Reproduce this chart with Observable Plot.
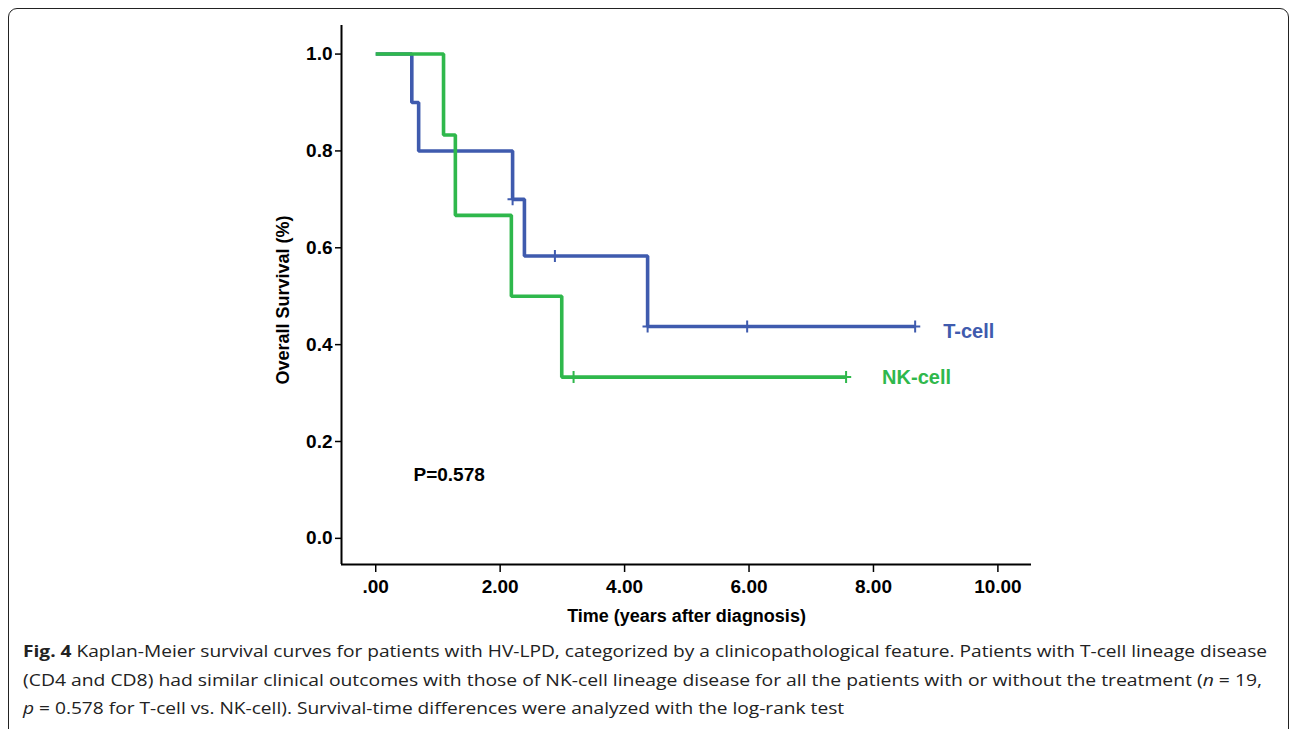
<!DOCTYPE html>
<html>
<head>
<meta charset="utf-8">
<script src="https://cdn.jsdelivr.net/npm/d3@7"></script>
<script src="https://cdn.jsdelivr.net/npm/@observablehq/plot@0.6"></script>
<style>
  html, body { margin: 0; padding: 0; background: #fff; }
  body { width: 1295px; height: 729px; position: relative; overflow: hidden; }
  #frame { position: absolute; left: 8px; top: 8px; width: 1281px; height: 730px; border: 1.5px solid #222; border-radius: 9px; box-sizing: border-box; }
  #chart { position: absolute; left: 0; top: 0; }
  #chart svg text { font-weight: bold; }
  #caption { position: absolute; left: 23px; top: 637px; font-family: "Open Sans", sans-serif; font-size: 16.5px; line-height: 28.5px; color: #222; }
  #caption .ln { white-space: nowrap; transform-origin: 0 50%; width: max-content; }
</style>
</head>
<body>
<div id="frame"></div>
<div id="chart"></div>
<div id="caption">
  <div class="ln"><b>Fig. 4</b> Kaplan-Meier survival curves for patients with HV-LPD, categorized by a clinicopathological feature. Patients with T-cell lineage disease</div>
  <div class="ln">(CD4 and CD8) had similar clinical outcomes with those of NK-cell lineage disease for all the patients with or without the treatment (<i>n</i> = 19,</div>
  <div class="ln"><i>p</i> = 0.578 for T-cell vs. NK-cell). Survival-time differences were analyzed with the log-rank test</div>
</div>
<script>
// ---- data ----
const tcellTime     = [0, 0.58, 0.69, 2.20, 2.39, 4.37, 8.67];
const tcellSurvival = [1.0, 0.9, 0.8, 0.7, 0.583, 0.4375, 0.4375];
const tcellCensored = [2.20, 2.88, 4.37, 5.97, 8.67];

const nkTime     = [0, 1.09, 1.28, 2.18, 2.99, 7.56];
const nkSurvival = [1.0, 0.833, 0.667, 0.5, 0.333, 0.333];
const nkCensored = [3.18, 7.56];

const xTicks = [0, 2, 4, 6, 8, 10];
const yTicks = [0, 0.2, 0.4, 0.6, 0.8, 1.0];
const seriesNames = ["T-cell", "NK-cell"];
const pLabel = "P=0.578";
const xTitle = "Time (years after diagnosis)";
const yTitle = "Overall Survival (%)";

// ---- build tables ----
const blue = "#3f5bae";
const green = "#2fb84c";
const tcell = tcellTime.map((t, i) => ({time: t, surv: tcellSurvival[i]}));
const nk = nkTime.map((t, i) => ({time: t, surv: nkSurvival[i]}));
function survAt(table, t) {
  let s = table[0].surv;
  for (const d of table) if (d.time <= t) s = d.surv;
  return s;
}
const tcellCens = tcellCensored.map(t => ({time: t, surv: survAt(tcell, t)}));
const nkCens = nkCensored.map(t => ({time: t, surv: survAt(nk, t)}));

const censorSymbol = {
  draw(ctx, size) {
    const r = Math.sqrt(size / Math.PI);
    ctx.moveTo(0, -r); ctx.lineTo(0, r);
    ctx.moveTo(-r * 0.85, 0); ctx.lineTo(r * 0.85, 0);
  }
};

const xDomain = [-0.55, 10.54];
const yDomain = [-0.054, 1.059];
const font = "'Liberation Sans', Arial, sans-serif";

const chart = Plot.plot({
  width: 1295,
  height: 640,
  marginLeft: 341,
  marginRight: 264,
  marginTop: 25,
  marginBottom: 76,
  style: {fontFamily: font, background: "transparent", color: "#000", overflow: "visible"},
  x: {domain: xDomain},
  y: {domain: yDomain},
  marks: [
    Plot.axisY({ticks: yTicks, tickFormat: d3.format(".1f"), tickSize: 6, tickPadding: 3, fontSize: 19, strokeWidth: 1.5, label: null}),
    Plot.axisX({ticks: xTicks, tickFormat: d => d === 0 ? ".00" : d.toFixed(2), tickSize: 8, tickPadding: 7, fontSize: 19, strokeWidth: 1.5, label: null}),
    Plot.ruleX([xDomain[0]], {stroke: "#000", strokeWidth: 2}),
    Plot.ruleY([yDomain[0]], {stroke: "#000", strokeWidth: 2}),
    Plot.line(tcell, {x: "time", y: "surv", curve: "step-after", stroke: blue, strokeWidth: 3.6, strokeLinejoin: "miter", strokeLinecap: "butt"}),
    Plot.dot(tcellCens, {x: "time", y: "surv", symbol: censorSymbol, r: 6, stroke: blue, strokeWidth: 2, fill: "none"}),
    Plot.line(nk, {x: "time", y: "surv", curve: "step-after", stroke: green, strokeWidth: 3.6, strokeLinejoin: "miter", strokeLinecap: "butt"}),
    Plot.dot(nkCens, {x: "time", y: "surv", symbol: censorSymbol, r: 6, stroke: green, strokeWidth: 2, fill: "none"}),
    Plot.text([tcell[tcell.length - 1]], {x: "time", y: "surv", text: () => seriesNames[0], fill: blue, fontSize: 20, textAnchor: "start", dx: 28, dy: 5}),
    Plot.text([nk[nk.length - 1]], {x: "time", y: "surv", text: () => seriesNames[1], fill: green, fontSize: 20, textAnchor: "start", dx: 36, dy: 1}),
    Plot.text([pLabel], {text: d => d, frameAnchor: "bottom-left", textAnchor: "start", dx: 72, dy: -84, fontSize: 19, fill: "#000"}),
    Plot.text([xTitle], {text: d => d, frameAnchor: "bottom", textAnchor: "middle", dy: 57, fontSize: 18, fill: "#000"}),
    Plot.text([yTitle], {text: d => d, frameAnchor: "left", textAnchor: "middle", lineAnchor: "middle", rotate: -90, dx: -58, dy: 5, fontSize: 18, fill: "#000"})
  ]
});
document.getElementById("chart").appendChild(chart);

// fit caption lines to the reference widths
const lines = document.querySelectorAll("#caption .ln");
const targets = [1244, 1239];
let s0 = 1;
lines.forEach((el, i) => {
  const w = el.getBoundingClientRect().width;
  if (i < 2) {
    const s = targets[i] / w;
    if (i === 0) s0 = s;
    el.style.transform = `scaleX(${s})`;
  } else {
    el.style.transform = `scaleX(${s0})`;
  }
});
</script>
</body>
</html>
